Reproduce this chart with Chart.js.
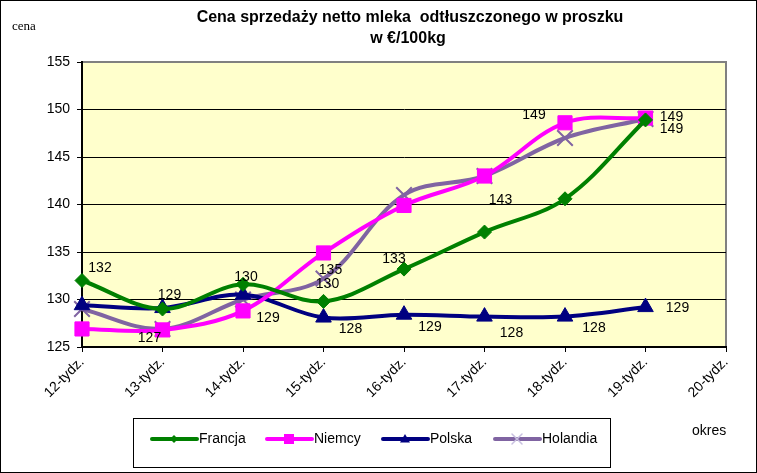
<!DOCTYPE html>
<html lang="pl">
<head>
    <meta charset="UTF-8">
    <title>Cena sprzedaży netto mleka odtłuszczonego w proszku</title>
    <script src="https://cdn.jsdelivr.net/npm/chart.js"></script>
    <style>
        body { margin: 0; background: #fff; }
    </style>
</head>
<body>

<canvas id="dataChart" width="757" height="473"></canvas>

<script>
    // categories (tygodnie)
    const weeks = ['12-tydz.', '13-tydz.', '14-tydz.', '15-tydz.', '16-tydz.', '17-tydz.', '18-tydz.', '19-tydz.', '20-tydz.'];

    // values, EUR/100kg
    const francja  = [132.0, 129.0, 131.6, 129.8, 133.2, 137.1, 140.6, 148.9, null];
    const niemcy   = [126.9, 126.8, 128.8, 134.9, 139.9, 143.0, 148.6, 149.1, null];
    const polska   = [129.4, 129.1, 130.5, 128.1, 128.4, 128.2, 128.2, 129.2, null];
    const holandia = [129.0, 126.9, 130.0, 132.2, 141.0, 143.0, 147.0, 149.0, null];

    // data labels shown in the original (null = no label)
    const francjaLabels  = ['132', null, null, '130', '133', null, null, null];
    const niemcyLabels   = [null, '127', '129', '135', null, '143', '149', '149'];
    const polskaLabels   = [null, '129', '130', '128', '129', '128', '128', '129'];
    const holandiaLabels = [null, null, null, null, null, null, null, '149'];

    // y axis ticks
    const yMin = 125, yMax = 155, yStep = 5;

    // where each label sits relative to its point (px)
    const labelOffsets = [
        [[18, -12], null, null, [4, -17], [-10, -10], null, null, null],
        [null, [-13, 8], [25, 7], [7, 17], null, [16, 24], [-31, -8], [26, -1]],
        [null, [7, -13], [3, -18], [27, 12], [26, 12], [27, 17], [29, 12], [32, 1]],
        [null, null, null, null, null, null, null, [26, 10]]
    ];

    const FONT = 'Liberation Sans, Arial, sans-serif';

    function drawMarker(ctx, style, x, y, r, color) {
        ctx.save();
        ctx.fillStyle = color;
        ctx.strokeStyle = color;
        ctx.beginPath();
        if (style === 'rectRot') {
            ctx.moveTo(x, y - r); ctx.lineTo(x + r, y); ctx.lineTo(x, y + r); ctx.lineTo(x - r, y);
            ctx.closePath(); ctx.fill();
        } else if (style === 'rect') {
            ctx.fillRect(x - r, y - r, 2 * r, 2 * r);
        } else if (style === 'triangle') {
            ctx.moveTo(x, y - r); ctx.lineTo(x + r, y + r * 0.7); ctx.lineTo(x - r, y + r * 0.7);
            ctx.closePath(); ctx.fill();
        } else if (style === 'crossRot') {
            ctx.lineWidth = 1.5;
            ctx.moveTo(x - r, y - r); ctx.lineTo(x + r, y + r);
            ctx.moveTo(x + r, y - r); ctx.lineTo(x - r, y + r);
            ctx.stroke();
        }
        ctx.restore();
    }

    // background, plot area, frame
    const backgroundPlugin = {
        id: 'background',
        beforeDraw(chart) {
            const { ctx, chartArea: a } = chart;
            ctx.save();
            ctx.fillStyle = '#fff';
            ctx.fillRect(0, 0, chart.width, chart.height);
            ctx.fillStyle = '#FFFFCC';
            ctx.fillRect(a.left, a.top, a.right - a.left, a.bottom - a.top);
            ctx.strokeStyle = '#808080';
            ctx.lineWidth = 2;
            ctx.beginPath();
            ctx.moveTo(a.left, a.top);
            ctx.lineTo(a.right, a.top);
            ctx.lineTo(a.right, a.bottom);
            ctx.stroke();
            ctx.restore();
        }
    };

    // titles, labels, legend
    const decorPlugin = {
        id: 'decor',
        afterDraw(chart) {
            const { ctx } = chart;
            ctx.save();

            // frame around whole chart
            ctx.strokeStyle = '#000';
            ctx.lineWidth = 1;
            ctx.strokeRect(0.5, 0.5, chart.width - 1, chart.height - 1);

            ctx.fillStyle = '#000';
            ctx.textAlign = 'center';
            ctx.textBaseline = 'middle';
            ctx.font = 'bold 16px ' + FONT;
            ctx.fillText('Cena sprzedaży netto mleka  odtłuszczonego w proszku', 410, 18);
            ctx.fillText('w €/100kg', 408, 39);

            ctx.textAlign = 'left';
            ctx.font = '13px Liberation Serif, Times New Roman, serif';
            ctx.fillText('cena', 12, 27);
            ctx.font = '14px ' + FONT;
            ctx.fillText('okres', 692, 431);

            // data labels
            ctx.textAlign = 'center';
            ctx.font = '14px ' + FONT;
            const allLabels = [francjaLabels, niemcyLabels, polskaLabels, holandiaLabels];
            allLabels.forEach((labels, ds) => {
                const meta = chart.getDatasetMeta(ds);
                labels.forEach((txt, i) => {
                    if (!txt) return;
                    const pt = meta.data[i];
                    const off = labelOffsets[ds][i] || [0, -12];
                    ctx.fillText(txt, pt.x + off[0], pt.y + off[1]);
                });
            });

            // legend
            const box = { x: 133, y: 418, w: 477, h: 49 };
            ctx.strokeStyle = '#000';
            ctx.lineWidth = 1;
            ctx.strokeRect(box.x + 0.5, box.y + 0.5, box.w, box.h);
            const legendX = [152, 267, 383, 495];
            const legendY = box.y + 21;
            const markerSize = [4, 5, 5, 5];
            ctx.textAlign = 'left';
            chart.data.datasets.forEach((ds, k) => {
                const x0 = legendX[k];
                ctx.strokeStyle = ds.borderColor;
                ctx.lineWidth = 4;
                ctx.lineCap = 'round';
                ctx.beginPath();
                ctx.moveTo(x0, legendY);
                ctx.lineTo(x0 + 45, legendY);
                ctx.stroke();
                drawMarker(ctx, ds.pointStyle, x0 + 22, legendY, markerSize[k],
                    ds.pointStyle === 'crossRot' ? '#C8C0E0' : ds.pointBackgroundColor);
                ctx.fillStyle = '#000';
                ctx.fillText(ds.label, x0 + 47, legendY);
            });

            ctx.restore();
        }
    };

    function renderChart() {
        const ctx = document.getElementById('dataChart').getContext('2d');
        const mk = (label, data, color, style, radius) => ({
            label: label,
            data: data,
            borderColor: color,
            backgroundColor: color,
            pointBackgroundColor: color,
            pointBorderColor: color,
            pointStyle: style,
            pointRadius: radius,
            pointBorderWidth: style === 'crossRot' ? 2 : 1,
            borderWidth: 4,
            tension: 0.35,
            fill: false,
            spanGaps: false
        });

        new Chart(ctx, {
            type: 'line',
            data: {
                labels: weeks,
                datasets: [
                    mk('Francja', francja, '#008000', 'rectRot', 7),
                    mk('Niemcy', niemcy, '#FF00FF', 'rect', 10),
                    mk('Polska', polska, '#000080', 'triangle', 9),
                    mk('Holandia', holandia, '#8064A2', 'crossRot', 11)
                ]
            },
            options: {
                responsive: false,
                animation: false,
                layout: { padding: { left: 42, top: 62, right: 31, bottom: 66 } },
                plugins: {
                    legend: { display: false },
                    title: { display: false },
                    tooltip: { enabled: false }
                },
                scales: {
                    x: {
                        offset: false,
                        afterFit: (scale) => { scale.height = 60; },
                        grid: { drawOnChartArea: false, drawTicks: true, tickLength: 5, color: '#000', tickColor: '#000' },
                        border: { color: '#000', width: 2 },
                        ticks: {
                            color: '#000',
                            font: { family: FONT, size: 14 },
                            maxRotation: 45,
                            minRotation: 45,
                            autoSkip: false,
                            padding: 2
                        }
                    },
                    y: {
                        min: yMin,
                        max: yMax,
                        afterFit: (scale) => { scale.width = 40; },
                        grid: {
                            color: (c) => (c.tick && c.tick.value === yMax) ? 'rgba(0,0,0,0)' : '#000',
                            tickColor: '#000',
                            tickLength: 5,
                            lineWidth: 1
                        },
                        border: { color: '#000', width: 2 },
                        ticks: {
                            stepSize: yStep,
                            color: '#000',
                            padding: 7,
                            font: { family: FONT, size: 14 }
                        }
                    }
                }
            },
            plugins: [backgroundPlugin, decorPlugin]
        });
    }

    renderChart();
</script>

</body>
</html>
